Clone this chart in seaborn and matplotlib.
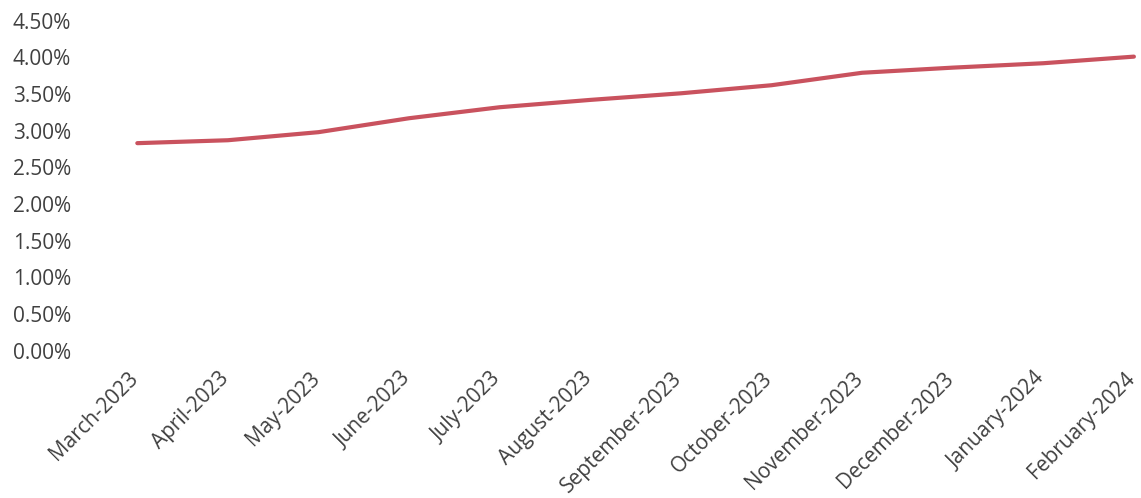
import matplotlib
matplotlib.use("Agg")
import matplotlib.pyplot as plt
import matplotlib.transforms as mtransforms
import seaborn as sns
import pandas as pd
from matplotlib.ticker import PercentFormatter

months = ["March-2023", "April-2023", "May-2023", "June-2023", "July-2023",
          "August-2023", "September-2023", "October-2023", "November-2023",
          "December-2023", "January-2024", "February-2024"]
rates = [2.83, 2.87, 2.98, 3.17, 3.32, 3.42, 3.51, 3.62, 3.79, 3.86, 3.92, 4.01]
y_ticks = [0, 0.5, 1.0, 1.5, 2.0, 2.5, 3.0, 3.5, 4.0, 4.5]

df = pd.DataFrame({"month": months, "rate": rates, "pos": range(len(months))})

sns.set_theme(style="white")
plt.rcParams['font.family'] = ['Open Sans', 'DejaVu Sans']

fig = plt.figure(figsize=(11.41, 4.98), dpi=100)
W, H = 1141, 498
ax = fig.add_axes([92 / W, (H - 350.7) / H, (W - 92) / W, (350.7 - 20.7) / H])

sns.lineplot(data=df, x="pos", y="rate", ax=ax, color="#C9525E", linewidth=3,
             solid_capstyle="round")

ax.set_ylim(0, 4.5)
ax.set_yticks(y_ticks)
ax.yaxis.set_major_formatter(PercentFormatter(decimals=2))
ax.set_xlim(-0.5, -0.5 + (W - 92) / 90.6)
ax.set_xticks(df["pos"])
ax.set_xticklabels(months, rotation=45, ha="right", va="center",
                   rotation_mode="anchor")
ax.tick_params(axis="both", length=0, labelsize=15, colors="#404040")
ax.tick_params(axis="y", pad=15)
ax.tick_params(axis="x", pad=18)
offset = mtransforms.ScaledTranslation(-2 / 100, 0, fig.dpi_scale_trans)
for lbl in ax.get_xticklabels():
    lbl.set_transform(lbl.get_transform() + offset)
ax.set_xlabel("")
ax.set_ylabel("")
for s in ax.spines.values():
    s.set_visible(False)
ax.grid(False)

fig.savefig("out.png", dpi=100)
